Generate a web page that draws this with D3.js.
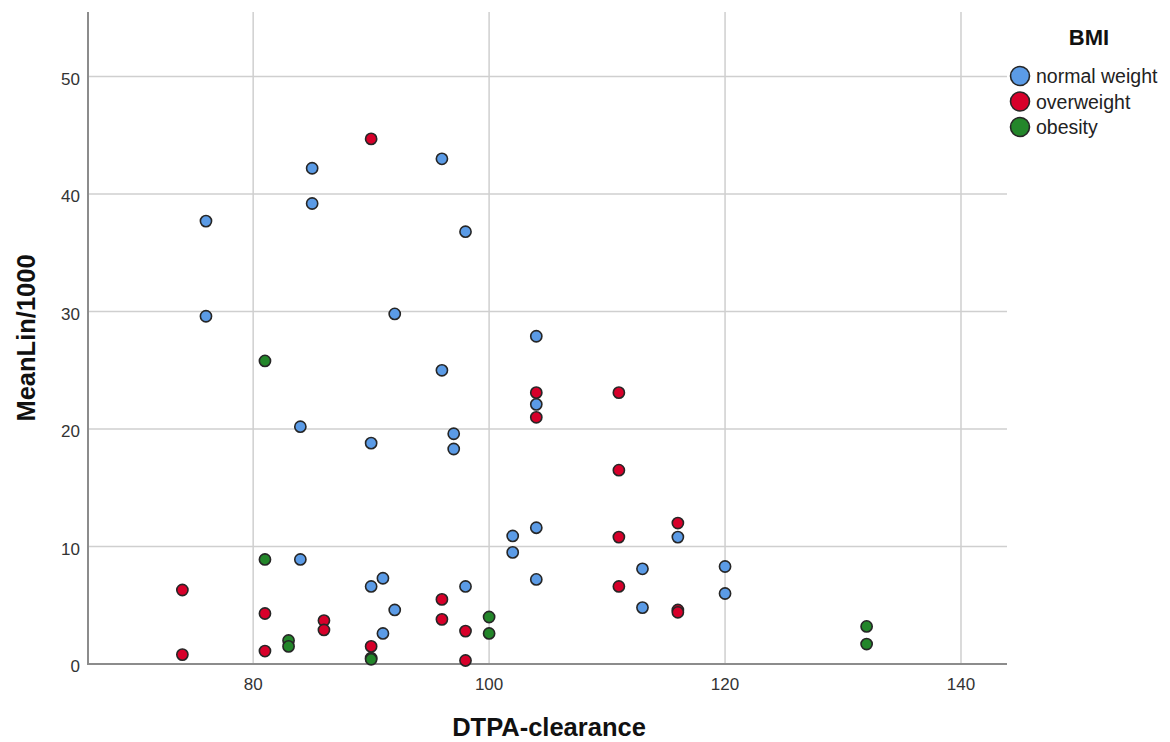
<!DOCTYPE html>
<head>
<meta charset="UTF-8">
<script src="https://cdn.jsdelivr.net/npm/d3@7"></script>
<style>
body { margin: 0; background: #fff; }
svg { display: block; font-family: "Liberation Sans", Arial, sans-serif; }
.grid line { stroke: #cfcfcf; stroke-width: 1.5px; }
.axis-line { stroke: #8c8c8c; stroke-width: 2px; }
.tick-label { fill: #333; font-size: 17px; }
.axis-title { fill: #111; font-size: 25.5px; font-weight: bold; }
.dot { stroke: #262626; stroke-width: 1.6px; }
</style>
</head>
<body>
<script>

var width = 1170,
    height = 742;

var groups = ["normal weight", "overweight", "obesity"];
var colors = ["#5b9be6", "#d7002a", "#23862a"];

// DTPA-clearance, MeanLin/1000 per group
var normalX = [76, 76, 85, 85, 96, 98, 92, 104, 96, 84, 90, 97, 97, 104, 102, 102, 104, 104, 116, 113, 113, 120, 120, 84, 90, 91, 92, 91, 98];
var normalY = [37.7, 29.6, 42.2, 39.2, 43.0, 36.8, 29.8, 27.9, 25.0, 20.2, 18.8, 19.6, 18.3, 22.1, 10.9, 9.5, 11.6, 7.2, 10.8, 8.1, 4.8, 8.3, 6.0, 8.9, 6.6, 7.3, 4.6, 2.6, 6.6];

var overX = [90, 104, 104, 111, 111, 111, 111, 116, 116, 116, 74, 74, 81, 81, 86, 86, 90, 96, 96, 98, 98];
var overY = [44.7, 23.1, 21.0, 23.1, 16.5, 10.8, 6.6, 12.0, 4.6, 4.4, 6.3, 0.8, 4.3, 1.1, 3.7, 2.9, 1.5, 5.5, 3.8, 2.8, 0.3];

var obeseX = [81, 81, 83, 83, 90, 90, 100, 100, 132, 132];
var obeseY = [25.8, 8.9, 2.0, 1.5, 0.5, 0.4, 4.0, 2.6, 3.2, 1.7];

var xTicks = [80, 100, 120, 140];
var yTicks = [0, 10, 20, 30, 40, 50];

var margin = {left: 88, right: 163, top: 12, bottom: 78};

var x = d3.scaleLinear()
    .domain([66, 143.9])
    .range([margin.left, width - margin.right]);

var y = d3.scaleLinear()
    .domain([0, 55.5])
    .range([height - margin.bottom, margin.top]);

var svg = d3.select("body").append("svg")
    .attr("width", width)
    .attr("height", height);

var grid = svg.append("g").attr("class", "grid");

grid.selectAll(".vg")
    .data(xTicks)
  .enter().append("line")
    .attr("x1", d => x(d)).attr("x2", d => x(d))
    .attr("y1", y.range()[1]).attr("y2", y.range()[0]);

grid.selectAll(".hg")
    .data(yTicks.filter(d => d > 0))
  .enter().append("line")
    .attr("x1", x.range()[0]).attr("x2", x.range()[1])
    .attr("y1", d => y(d)).attr("y2", d => y(d));

svg.append("line")
    .attr("class", "axis-line")
    .attr("x1", x.range()[0]).attr("x2", x.range()[0])
    .attr("y1", y.range()[1]).attr("y2", y.range()[0] + 1);

svg.append("line")
    .attr("class", "axis-line")
    .attr("x1", x.range()[0] - 1).attr("x2", x.range()[1])
    .attr("y1", y.range()[0]).attr("y2", y.range()[0]);

svg.selectAll(".xl")
    .data(xTicks)
  .enter().append("text")
    .attr("class", "tick-label")
    .attr("x", d => x(d))
    .attr("y", y.range()[0] + 26)
    .attr("text-anchor", "middle")
    .text(d => d);

svg.selectAll(".yl")
    .data(yTicks)
  .enter().append("text")
    .attr("class", "tick-label")
    .attr("x", x.range()[0] - 8)
    .attr("y", d => y(d) + 8)
    .attr("text-anchor", "end")
    .text(d => d);

svg.append("text")
    .attr("class", "axis-title")
    .attr("x", 549)
    .attr("y", 736)
    .attr("text-anchor", "middle")
    .text("DTPA-clearance");

svg.append("text")
    .attr("class", "axis-title")
    .attr("transform", "translate(35,338) rotate(-90)")
    .attr("text-anchor", "middle")
    .text("MeanLin/1000");

var series = [
    {xs: normalX, ys: normalY, c: colors[0]},
    {xs: overX, ys: overY, c: colors[1]},
    {xs: obeseX, ys: obeseY, c: colors[2]}
];

var dots = svg.append("g");
series.forEach(function(s) {
    dots.selectAll(null)
        .data(s.xs.map((v, i) => [v, s.ys[i]]))
      .enter().append("circle")
        .attr("class", "dot")
        .attr("cx", d => x(d[0]))
        .attr("cy", d => y(d[1]))
        .attr("r", 5.6)
        .attr("fill", s.c);
});

// legend
var legend = svg.append("g");

legend.append("text")
    .attr("x", 1089)
    .attr("y", 45)
    .attr("text-anchor", "middle")
    .attr("font-size", 22)
    .attr("font-weight", "bold")
    .attr("fill", "#111")
    .text("BMI");

var item = legend.selectAll(".item")
    .data(groups)
  .enter().append("g")
    .attr("transform", (d, i) => "translate(1020," + (76 + i * 25.5) + ")");

item.append("circle")
    .attr("r", 9.5)
    .attr("fill", (d, i) => colors[i])
    .attr("stroke", "#262626")
    .attr("stroke-width", 1.6);

item.append("text")
    .attr("x", 16)
    .attr("y", 7)
    .attr("font-size", 19.5)
    .attr("fill", "#222")
    .text(d => d);

</script>
</body>
